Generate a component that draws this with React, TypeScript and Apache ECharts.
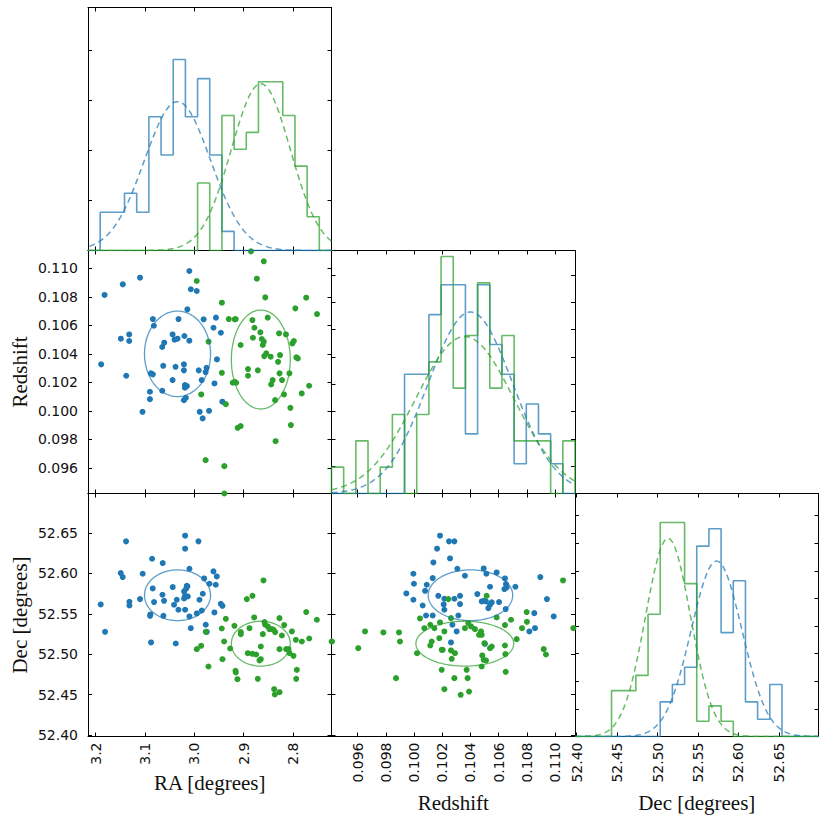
import React, { useEffect, useRef } from "react";
import * as echarts from "echarts";

// ---- colours -------------------------------------------------------------
const BLUE = "#1f77b4";
const GREEN = "#2ca02c";
const LINE_OPACITY = 0.72;
const FRAME = "#000";

// ---- axis ranges and ticks ------------------------------------------------
const RA_RANGE: [number, number] = [2.7216, 3.2156];
const Z_RANGE_X: [number, number] = [0.09414, 0.11142];
const Z_RANGE_Y: [number, number] = [0.0942, 0.11125];
const DEC_RANGE: [number, number] = [52.398, 52.699];

const RA_TICKS = [2.8, 2.9, 3.0, 3.1, 3.2];
const Z_TICKS = [0.096, 0.098, 0.1, 0.102, 0.104, 0.106, 0.108, 0.11];
const DEC_TICKS = [52.4, 52.45, 52.5, 52.55, 52.6, 52.65];

const RA_DENSITY_TICKS = [0, 2, 4, 6, 8];
const Z_DENSITY_TICKS = [0, 20, 40, 60, 80, 100, 120, 140, 160];
const DEC_DENSITY_TICKS = [0, 2, 4, 6, 8, 10, 12, 14, 16];
const RA_DENSITY_MAX = 9.72;
const Z_DENSITY_MAX = 178;
const DEC_DENSITY_MAX = 17.6;

// ---- axis titles ------------------------------------------------------------
const RA_TITLE = "RA [degrees]";
const Z_TITLE = "Redshift";
const DEC_TITLE = "Dec [degrees]";

// ---- histogram counts: 20 bins spanning each axis range (increasing value) --
const RA_COUNTS_BLUE = [0, 0, 0, 0, 0, 0, 0, 0, 1, 5, 9, 7, 10, 5, 7, 2, 3, 2, 2, 0];
const RA_COUNTS_GREEN = [0, 2, 5, 8, 10, 10, 7, 6, 8, 0, 4, 0, 0, 0, 0, 0, 0, 0, 0, 0];
const Z_COUNTS_BLUE = [0, 0, 0, 0, 0, 0, 4, 4, 6, 7, 7, 2, 7, 5, 4, 1, 3, 2, 1, 0];
const Z_COUNTS_GREEN = [1, 0, 2, 0, 1, 3, 0, 3, 5, 9, 4, 6, 8, 4, 6, 2, 2, 2, 0, 2];
const DEC_COUNTS_BLUE = [0, 0, 0, 0, 0, 0, 0, 2, 3, 4, 11, 12, 6, 9, 2, 1, 3, 0, 0, 0];
const DEC_COUNTS_GREEN = [0, 0, 0, 3, 3, 4, 8, 14, 14, 10, 1, 2, 1, 0, 0, 0, 0, 0, 0, 0];

// ---- Gaussian fit of each group: [RA, redshift, Dec] ------------------------
const BLUE_MEAN = [3.034, 0.104, 52.573];
const BLUE_SIGMA = [0.067, 0.003, 0.0314];
const GREEN_MEAN = [2.865, 0.1036, 52.513];
const GREEN_SIGMA = [0.0598, 0.00347, 0.0278];

// ---- members: RA vs redshift ------------------------------------------------
const RA_Z_BLUE = [
  [3.189, 0.10326], [3.182, 0.10813], [3.145, 0.10888], [3.149, 0.10506], [3.132, 0.10536],
  [3.132, 0.1049], [3.138, 0.10246], [3.11, 0.10934], [3.105, 0.09993], [3.09, 0.10134],
  [3.09, 0.10082], [3.088, 0.10263], [3.084, 0.10256], [3.084, 0.10644], [3.082, 0.10597],
  [3.065, 0.10448], [3.061, 0.10478], [3.065, 0.10141], [3.063, 0.10316], [3.044, 0.10536],
  [3.04, 0.10499], [3.034, 0.10506], [3.038, 0.10309], [3.032, 0.10644], [3.044, 0.10216],
  [3.02, 0.10525], [3.01, 0.10492], [3.021, 0.10326], [3.021, 0.10284], [3.019, 0.10181],
  [3.015, 0.10174], [3.019, 0.10162], [3.021, 0.10075], [3.017, 0.10092], [3.014, 0.10712],
  [3.01, 0.10981], [3.007, 0.10853], [2.995, 0.10841], [2.991, 0.10284], [2.989, 0.09993],
  [2.983, 0.09947], [2.985, 0.10216], [2.981, 0.10642], [2.975, 0.10302], [2.977, 0.10272],
  [2.97, 0.1], [2.961, 0.10583], [2.956, 0.10654], [2.959, 0.10192], [2.954, 0.10361],
  [2.946, 0.10548], [2.943, 0.10064],
];
const RA_Z_GREEN = [
  [2.995, 0.10911], [2.971, 0.10485], [2.944, 0.10759], [2.986, 0.10115], [2.977, 0.09654],
  [2.944, 0.10267], [2.939, 0.09612], [2.936, 0.10047], [2.939, 0.0942], [2.93, 0.10644],
  [2.918, 0.10642], [2.916, 0.10644], [2.922, 0.10197], [2.918, 0.10204], [2.915, 0.10197],
  [2.906, 0.10462], [2.912, 0.09881], [2.906, 0.09893], [2.891, 0.10293], [2.891, 0.10246],
  [2.885, 0.11119], [2.873, 0.10927], [2.859, 0.11049], [2.856, 0.10796], [2.882, 0.10637],
  [2.878, 0.10583], [2.881, 0.10513], [2.866, 0.10551], [2.863, 0.10504], [2.859, 0.10485],
  [2.871, 0.10284], [2.861, 0.10462], [2.858, 0.10384], [2.851, 0.10654], [2.854, 0.10403],
  [2.845, 0.1038], [2.844, 0.10185], [2.841, 0.10216], [2.836, 0.10075], [2.835, 0.09787],
  [2.828, 0.10544], [2.826, 0.10391], [2.83, 0.10344], [2.827, 0.10263], [2.822, 0.10216],
  [2.818, 0.10115], [2.814, 0.10536], [2.807, 0.10263], [2.805, 0.10021], [2.804, 0.099],
  [2.801, 0.10473], [2.798, 0.1049], [2.795, 0.10719], [2.793, 0.10375], [2.79, 0.10368],
  [2.782, 0.10122], [2.773, 0.10794], [2.767, 0.10176], [2.751, 0.10679],
];

// ---- members: RA vs Dec -----------------------------------------------------
const RA_DEC_BLUE = [
  [3.1898, 52.5616], [3.181, 52.5277], [3.1384, 52.6397], [3.1492, 52.6004], [3.1452, 52.5955],
  [3.1316, 52.5649], [3.1316, 52.5603], [3.11, 52.5682], [3.1046, 52.5996], [3.0897, 52.5475],
  [3.0856, 52.6182], [3.0843, 52.5814], [3.0816, 52.5645], [3.0877, 52.5145], [3.064, 52.6128],
  [3.0646, 52.5736], [3.0613, 52.5661], [3.0626, 52.5475], [3.0437, 52.5831], [3.041, 52.5612],
  [3.0376, 52.5132], [3.0355, 52.5674], [3.0322, 52.555], [3.0186, 52.6467], [3.0186, 52.6306],
  [3.0207, 52.5777], [3.0186, 52.5723], [3.0166, 52.581], [3.0152, 52.5847], [3.0207, 52.569],
  [3.0186, 52.555], [3.0132, 52.5715], [3.0098, 52.6058], [3.0098, 52.5467], [3.0071, 52.5322],
  [2.9915, 52.6397], [2.9949, 52.5504], [2.9895, 52.5674], [2.9848, 52.5541], [2.9827, 52.5748],
  [2.98, 52.5938], [2.9767, 52.5364], [2.9746, 52.5277], [2.9692, 52.5872], [2.9611, 52.6025],
  [2.9564, 52.586], [2.9543, 52.5963], [2.9591, 52.5517], [2.9462, 52.5624], [2.9428, 52.5599],
  [3.089, 52.5492], [3.0139, 52.5839],
];
const RA_DEC_GREEN = [
  [2.9949, 52.5062], [2.9861, 52.5103], [2.9712, 52.4847], [2.9767, 52.5277], [2.9442, 52.5318],
  [2.9428, 52.4938], [2.9394, 52.5157], [2.936, 52.5438], [2.9272, 52.507], [2.9185, 52.5351],
  [2.9164, 52.4794], [2.9157, 52.4773], [2.9124, 52.469], [2.9056, 52.5273], [2.9056, 52.5248],
  [2.8934, 52.5682], [2.8819, 52.5723], [2.888, 52.5322], [2.8914, 52.5012], [2.8819, 52.5004],
  [2.8745, 52.4996], [2.8785, 52.5455], [2.8711, 52.4694], [2.8677, 52.4922], [2.865, 52.4938],
  [2.865, 52.5095], [2.8596, 52.5913], [2.8609, 52.5248], [2.8575, 52.5397], [2.8562, 52.5364],
  [2.8508, 52.5343], [2.8474, 52.531], [2.8426, 52.531], [2.8393, 52.5302], [2.8359, 52.5273],
  [2.8379, 52.4566], [2.8366, 52.45], [2.8271, 52.4529], [2.8271, 52.5446], [2.8271, 52.5062],
  [2.8176, 52.536], [2.8223, 52.5231], [2.8135, 52.5062], [2.8088, 52.5062], [2.8068, 52.5012],
  [2.802, 52.5281], [2.7987, 52.4979], [2.7939, 52.5178], [2.7919, 52.4806], [2.7932, 52.4694],
  [2.7817, 52.5157], [2.7729, 52.5521], [2.7668, 52.5194], [2.7513, 52.5426], [2.7208, 52.5157],
];

// ---- members: redshift vs Dec -----------------------------------------------
const Z_DEC_BLUE = [
  [0.10184, 52.6467], [0.10248, 52.6397], [0.10286, 52.6397], [0.10163, 52.6306], [0.10137, 52.6136],
  [0.10255, 52.6186], [0.09995, 52.5996], [0.10307, 52.6058], [0.09999, 52.5872], [0.09945, 52.5752],
  [0.09995, 52.5674], [0.1009, 52.586], [0.10078, 52.5785], [0.10132, 52.5942], [0.10061, 52.5603],
  [0.10085, 52.5479], [0.10132, 52.5479], [0.10172, 52.5723], [0.10215, 52.5686], [0.10286, 52.5686],
  [0.10326, 52.5723], [0.10326, 52.562], [0.1021, 52.5616], [0.10215, 52.555], [0.10272, 52.5364],
  [0.10302, 52.5281], [0.10314, 52.5479], [0.10361, 52.5971], [0.10449, 52.5744], [0.1048, 52.5653],
  [0.10496, 52.5661], [0.1051, 52.5653], [0.10539, 52.5835], [0.10539, 52.5612], [0.10527, 52.557],
  [0.10551, 52.5641], [0.10494, 52.6062], [0.10513, 52.5996], [0.10586, 52.6012], [0.10603, 52.5645],
  [0.10645, 52.5938], [0.10652, 52.5868], [0.10657, 52.5826], [0.10641, 52.5806], [0.1065, 52.5558],
  [0.10719, 52.5835], [0.10262, 52.5145], [0.10503, 52.5128], [0.10818, 52.5281], [0.10853, 52.5508],
  [0.10858, 52.5322], [0.10896, 52.5955], [0.10943, 52.5682], [0.10991, 52.5467],
];
const Z_DEC_GREEN = [
  [0.09415, 52.5157], [0.09604, 52.5074], [0.09652, 52.5281], [0.09782, 52.5269], [0.09893, 52.5269],
  [0.099, 52.5157], [0.09872, 52.4703], [0.10021, 52.5012], [0.10042, 52.5442], [0.10073, 52.5322],
  [0.10115, 52.5364], [0.10125, 52.5157], [0.10115, 52.5107], [0.10144, 52.5322], [0.10184, 52.5393],
  [0.10179, 52.5198], [0.10196, 52.5054], [0.10203, 52.5054], [0.10215, 52.5281], [0.10196, 52.4806],
  [0.10215, 52.4566], [0.10243, 52.5682], [0.10262, 52.5446], [0.10262, 52.5046], [0.1029, 52.5012],
  [0.10267, 52.4942], [0.10286, 52.4703], [0.10331, 52.4496], [0.10361, 52.5322], [0.10373, 52.4806],
  [0.1038, 52.4703], [0.1039, 52.4537], [0.10385, 52.5384], [0.10404, 52.5343], [0.10432, 52.531],
  [0.10461, 52.524], [0.1048, 52.524], [0.10475, 52.5281], [0.10515, 52.5723], [0.10484, 52.4984],
  [0.10494, 52.493], [0.1051, 52.4922], [0.10499, 52.5136], [0.10539, 52.5074], [0.10551, 52.5095],
  [0.10586, 52.5455], [0.1048, 52.4847], [0.10645, 52.536], [0.10645, 52.5107], [0.10648, 52.5],
  [0.1065, 52.4781], [0.10688, 52.5426], [0.10728, 52.5186], [0.10766, 52.5322], [0.10799, 52.5521],
  [0.10801, 52.5401], [0.1092, 52.5062], [0.10936, 52.4996], [0.11057, 52.5913], [0.1113, 52.5322],
];

// ---- layout of the corner grid ----------------------------------------------
const COL_X = [88, 331.5, 575];
const ROW_Y = [7.5, 250.5, 493.5];
const CELL_W = 243.5;
const CELL_H = 243;

// ---- helpers that turn the numbers above into drawable point lists ---------
function stepOutline(counts: number[], range: [number, number]) {
  const bw = (range[1] - range[0]) / counts.length;
  const total = counts.reduce((a, b) => a + b, 0);
  const pts: number[][] = [[range[0], 0]];
  counts.forEach((c, i) => {
    const d = c / (total * bw);
    pts.push([range[0] + i * bw, d], [range[0] + (i + 1) * bw, d]);
  });
  pts.push([range[1], 0]);
  return pts;
}

function gaussian(mu: number, sigma: number, range: [number, number], n = 240) {
  const pts: number[][] = [];
  const norm = 1 / (sigma * Math.sqrt(2 * Math.PI));
  for (let i = 0; i <= n; i++) {
    const x = range[0] + ((range[1] - range[0]) * i) / n;
    pts.push([x, norm * Math.exp(-0.5 * ((x - mu) / sigma) ** 2)]);
  }
  return pts;
}

function ellipse(mx: number, my: number, sx: number, sy: number, n = 160) {
  const pts: number[][] = [];
  for (let i = 0; i <= n; i++) {
    const t = (2 * Math.PI * i) / n;
    pts.push([mx + sx * Math.cos(t), my + sy * Math.sin(t)]);
  }
  return pts;
}

const TICK_FONT = { fontFamily: "DejaVu Sans", fontSize: 14, color: "#111" };
const SERIF = "Liberation Serif";
const NAME_SIZE = 21;

type AxisOpts = {
  labels?: boolean;
  digits?: number;
  inverse?: boolean;
  name?: string;
  nameGap?: number;
};

function axisPair(kind: "x" | "y", grid: number, range: [number, number], ticks: number[], o: AxisOpts) {
  const base: any = {
    type: "value",
    gridIndex: grid,
    min: range[0],
    max: range[1],
    inverse: !!o.inverse,
    splitLine: { show: false },
    axisLine: { show: true, onZero: false, lineStyle: { color: FRAME, width: 1 } },
    axisTick: { show: true, inside: true, length: 4, customValues: ticks, lineStyle: { color: FRAME, width: 1 } },
  };
  const labelled = o.labels
    ? {
        show: true,
        customValues: ticks,
        margin: kind === "x" ? 6 : 10,
        rotate: kind === "x" ? 90 : 0,
        formatter: (v: number) => v.toFixed(o.digits ?? 2),
        ...TICK_FONT,
      }
    : { show: false };
  const first: any = {
    ...base,
    position: kind === "x" ? "bottom" : "left",
    axisLabel: labelled,
  };
  if (o.name) {
    first.name = o.name;
    first.nameLocation = "middle";
    first.nameGap = o.nameGap;
    first.nameTextStyle = { fontFamily: SERIF, fontSize: NAME_SIZE, color: "#111" };
    if (kind === "y") first.nameRotate = 90;
  }
  const second: any = {
    ...base,
    position: kind === "x" ? "top" : "right",
    axisLabel: { show: false },
  };
  return [first, second];
}

export default function App() {
  const ref = useRef<HTMLDivElement>(null);

  useEffect(() => {
    if (!ref.current) return;
    const chart = echarts.init(ref.current, undefined, { renderer: "svg" });

    // panel order: RA hist, RA-z, z hist, RA-Dec, z-Dec, Dec hist
    const cells = [
      [0, 0], [1, 0], [1, 1], [2, 0], [2, 1], [2, 2],
    ];
    const grid = cells.map(([r, c]) => ({
      left: COL_X[c],
      top: ROW_Y[r],
      width: CELL_W,
      height: CELL_H,
      containLabel: false,
      outerBoundsMode: "none",
    }));

    const xAxis = [
      ...axisPair("x", 0, RA_RANGE, RA_TICKS, { inverse: true }),
      ...axisPair("x", 1, RA_RANGE, RA_TICKS, { inverse: true }),
      ...axisPair("x", 2, Z_RANGE_X, Z_TICKS, {}),
      ...axisPair("x", 3, RA_RANGE, RA_TICKS, { inverse: true, labels: true, digits: 1 }),
      ...axisPair("x", 4, Z_RANGE_X, Z_TICKS, { labels: true, digits: 3 }),
      ...axisPair("x", 5, DEC_RANGE, DEC_TICKS, { labels: true, digits: 2 }),
    ];
    const yAxis = [
      ...axisPair("y", 0, [0, RA_DENSITY_MAX], RA_DENSITY_TICKS, {}),
      ...axisPair("y", 1, Z_RANGE_Y, Z_TICKS, { labels: true, digits: 3, name: Z_TITLE, nameGap: 58 }),
      ...axisPair("y", 2, [0, Z_DENSITY_MAX], Z_DENSITY_TICKS, {}),
      ...axisPair("y", 3, DEC_RANGE, DEC_TICKS, { labels: true, digits: 2, name: DEC_TITLE, nameGap: 58 }),
      ...axisPair("y", 4, DEC_RANGE, DEC_TICKS, {}),
      ...axisPair("y", 5, [0, DEC_DENSITY_MAX], DEC_DENSITY_TICKS, {}),
    ];

    const line = (g: number, data: number[][], color: string, width: number, dashed = false) => ({
      type: "line",
      xAxisIndex: 2 * g,
      yAxisIndex: 2 * g,
      data,
      symbol: "none",
      showSymbol: false,
      silent: true,
      clip: true,
      lineStyle: { color, width, opacity: LINE_OPACITY, type: dashed ? [6, 4] : "solid" },
      z: 3,
    });
    const dots = (g: number, data: number[][], color: string) => ({
      type: "scatter",
      xAxisIndex: 2 * g,
      yAxisIndex: 2 * g,
      data,
      symbol: "circle",
      symbolSize: 6,
      silent: true,
      clip: false,
      itemStyle: { color, opacity: 1, borderWidth: 0 },
      z: 2,
    });

    const series = [
      // RA histogram
      line(0, stepOutline(RA_COUNTS_BLUE, RA_RANGE), BLUE, 1.6),
      line(0, stepOutline(RA_COUNTS_GREEN, RA_RANGE), GREEN, 1.6),
      line(0, gaussian(BLUE_MEAN[0], BLUE_SIGMA[0], RA_RANGE), BLUE, 1.5, true),
      line(0, gaussian(GREEN_MEAN[0], GREEN_SIGMA[0], RA_RANGE), GREEN, 1.5, true),
      // RA vs redshift
      dots(1, RA_Z_BLUE, BLUE),
      dots(1, RA_Z_GREEN, GREEN),
      line(1, ellipse(BLUE_MEAN[0], BLUE_MEAN[1], BLUE_SIGMA[0], BLUE_SIGMA[1]), BLUE, 1.3),
      line(1, ellipse(GREEN_MEAN[0], GREEN_MEAN[1], GREEN_SIGMA[0], GREEN_SIGMA[1]), GREEN, 1.3),
      // redshift histogram
      line(2, stepOutline(Z_COUNTS_BLUE, Z_RANGE_X), BLUE, 1.6),
      line(2, stepOutline(Z_COUNTS_GREEN, Z_RANGE_X), GREEN, 1.6),
      line(2, gaussian(BLUE_MEAN[1], BLUE_SIGMA[1], Z_RANGE_X), BLUE, 1.5, true),
      line(2, gaussian(GREEN_MEAN[1], GREEN_SIGMA[1], Z_RANGE_X), GREEN, 1.5, true),
      // RA vs Dec
      dots(3, RA_DEC_BLUE, BLUE),
      dots(3, RA_DEC_GREEN, GREEN),
      line(3, ellipse(BLUE_MEAN[0], BLUE_MEAN[2], BLUE_SIGMA[0], BLUE_SIGMA[2]), BLUE, 1.3),
      line(3, ellipse(GREEN_MEAN[0], GREEN_MEAN[2], GREEN_SIGMA[0], GREEN_SIGMA[2]), GREEN, 1.3),
      // redshift vs Dec
      dots(4, Z_DEC_BLUE, BLUE),
      dots(4, Z_DEC_GREEN, GREEN),
      line(4, ellipse(BLUE_MEAN[1], BLUE_MEAN[2], BLUE_SIGMA[1], BLUE_SIGMA[2]), BLUE, 1.3),
      line(4, ellipse(GREEN_MEAN[1], GREEN_MEAN[2], GREEN_SIGMA[1], GREEN_SIGMA[2]), GREEN, 1.3),
      // Dec histogram
      line(5, stepOutline(DEC_COUNTS_BLUE, DEC_RANGE), BLUE, 1.6),
      line(5, stepOutline(DEC_COUNTS_GREEN, DEC_RANGE), GREEN, 1.6),
      line(5, gaussian(BLUE_MEAN[2], BLUE_SIGMA[2], DEC_RANGE), BLUE, 1.5, true),
      line(5, gaussian(GREEN_MEAN[2], GREEN_SIGMA[2], DEC_RANGE), GREEN, 1.5, true),
    ];

    // x-axis titles under the bottom row of panels
    const xTitle = (text: string, col: number, top: number) => ({
      type: "text",
      x: COL_X[col] + CELL_W / 2,
      y: top,
      silent: true,
      style: {
        text,
        fontFamily: SERIF,
        fontSize: NAME_SIZE,
        fill: "#111",
        align: "center",
        verticalAlign: "top",
      },
    });

    chart.setOption({
      animation: false,
      backgroundColor: "#ffffff",
      grid,
      xAxis,
      yAxis,
      series,
      graphic: [
        xTitle(RA_TITLE, 0, 772),
        xTitle(Z_TITLE, 1, 792),
        xTitle(DEC_TITLE, 2, 792),
      ],
    });

    return () => chart.dispose();
  }, []);

  return (
    <div
      ref={ref}
      style={{ position: "fixed", left: 0, top: 0, width: 825, height: 825, background: "#fff" }}
    />
  );
}
